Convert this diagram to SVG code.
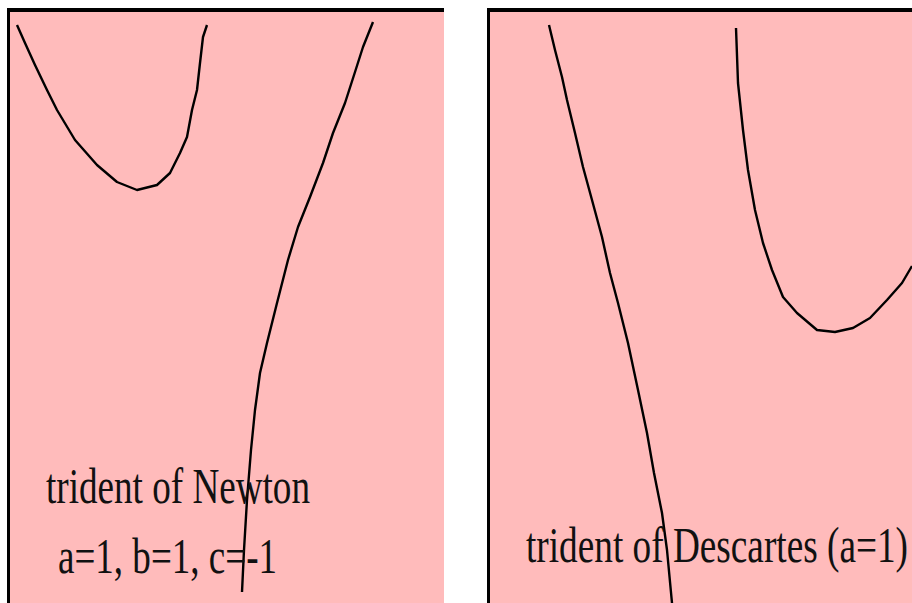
<svg xmlns="http://www.w3.org/2000/svg" width="912" height="603" viewBox="0 0 912 603">
<style>
.bg{fill:#FFBBBB}
.frame{fill:#000}
.curve{fill:none;stroke:#000;stroke-width:2.4;stroke-linejoin:round;stroke-linecap:butt}
.lbl{font-family:"Liberation Serif","Times New Roman",serif;font-size:50px;fill:#111}
</style>
<rect width="912" height="603" fill="#fff"/>
<g id="panel-newton">
<rect class="frame" x="7" y="8" width="437" height="595"/>
<rect class="bg" x="10" y="12" width="434" height="591"/>
<polyline class="curve" points="17,25 25,43 35,65 47,90 57,110 75,140 97,165 117,182 137,190 157,185 170,173 180,153 187,137 192,110 197,90 200,63 203,37 207,25"/>
<polyline class="curve" points="373,22 363,47 355,72 345,103 333,133 323,163 310,197 298,227 288,260 277,303 267,343 260,373 255,410 251,450 247,500 244,550 242,592"/>
<text class="lbl" x="46" y="503" textLength="264" lengthAdjust="spacingAndGlyphs">trident of Newton</text>
<text class="lbl" x="58" y="573" textLength="219" lengthAdjust="spacingAndGlyphs">a=1, b=1, c=-1</text>
</g>
<g id="panel-descartes">
<rect class="frame" x="487" y="8" width="425" height="595"/>
<rect class="bg" x="490" y="12" width="422" height="591"/>
<polyline class="curve" points="549,25 555,50 562,77 567,100 575,133 583,167 592,200 602,237 610,273 618,303 628,343 638,390 647,433 654,473 662,513 667,550 672,603"/>
<polyline class="curve" points="736,28 738,83 743,130 748,170 755,210 763,243 772,270 783,297 797,313 817,330 835,332 853,328 870,318 887,300 902,283 912,266"/>
<text class="lbl" x="526" y="562" textLength="382" lengthAdjust="spacingAndGlyphs">trident of Descartes (a=1)</text>
</g>
</svg>
